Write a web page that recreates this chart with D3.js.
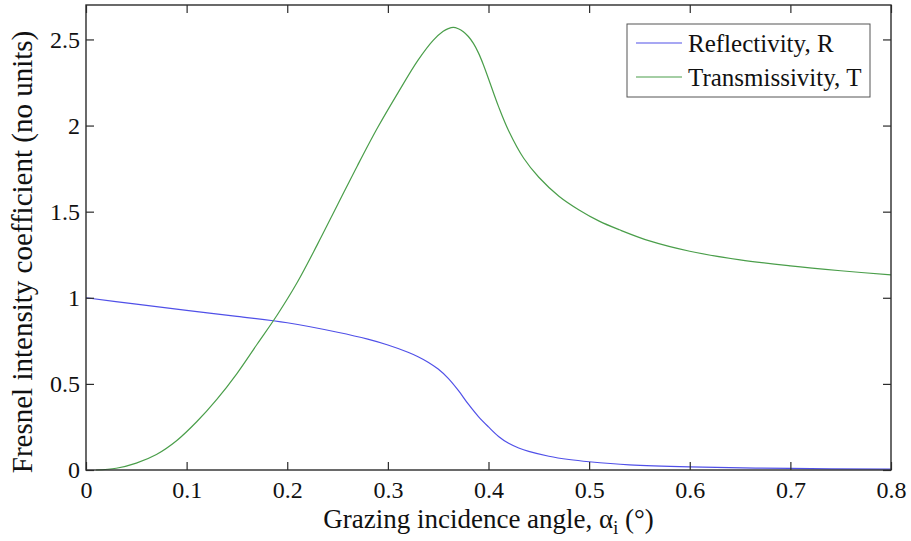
<!DOCTYPE html>
<html>
<head>
<meta charset="utf-8">
<script src="https://cdn.jsdelivr.net/npm/d3@7"></script>
<style>
  html, body { margin: 0; padding: 0; background: #fff; }
  svg { display: block; }
  text { font-family: "Liberation Serif", "Times New Roman", serif; fill: #111; }
</style>
</head>
<body>
<svg id="chart" width="911" height="541"></svg>
<script>
// ---- data ----
const reflAngle = [0, 0.05, 0.1, 0.15, 0.2, 0.25, 0.28, 0.30, 0.32, 0.33, 0.34, 0.35, 0.36, 0.37, 0.38, 0.39, 0.40, 0.41, 0.42, 0.43, 0.44, 0.46, 0.48, 0.50, 0.54, 0.60, 0.70, 0.80];
const reflValue = [1.0, 0.963, 0.927, 0.892, 0.855, 0.80, 0.76, 0.726, 0.684, 0.658, 0.626, 0.586, 0.532, 0.462, 0.382, 0.31, 0.25, 0.195, 0.155, 0.128, 0.108, 0.08, 0.061, 0.048, 0.03, 0.018, 0.009, 0.005];

const transAngle = [0.01, 0.03, 0.05, 0.07, 0.09, 0.11, 0.13, 0.15, 0.17, 0.19, 0.21, 0.23, 0.25, 0.27, 0.29, 0.31, 0.33, 0.345, 0.355, 0.36, 0.365, 0.37, 0.375, 0.38, 0.385, 0.39, 0.395, 0.40, 0.41, 0.42, 0.435, 0.45, 0.47, 0.49, 0.51, 0.53, 0.56, 0.60, 0.65, 0.70, 0.75, 0.80];
const transValue = [0.0, 0.01, 0.04, 0.09, 0.17, 0.28, 0.41, 0.56, 0.73, 0.90, 1.09, 1.31, 1.54, 1.77, 1.99, 2.19, 2.38, 2.495, 2.548, 2.563, 2.57, 2.562, 2.545, 2.517, 2.477, 2.422, 2.352, 2.272, 2.11, 1.97, 1.81, 1.70, 1.59, 1.51, 1.445, 1.395, 1.33, 1.27, 1.22, 1.185, 1.157, 1.133];

const xTicks = [0, 0.1, 0.2, 0.3, 0.4, 0.5, 0.6, 0.7, 0.8];
const yTicks = [0, 0.5, 1, 1.5, 2, 2.5];
const seriesNames = ["Reflectivity, R", "Transmissivity, T"];
const seriesColors = ["#5050e8", "#4a9e4a"];

// ---- layout ----
const svg = d3.select("#chart");
const m = { left: 86, top: 5, right: 891, bottom: 470 };
const x = d3.scaleLinear().domain([0, 0.8]).range([m.left, m.right]);
const y = d3.scaleLinear().domain([0, 2.7]).range([m.bottom, m.top]);

const series = [
  { name: seriesNames[0], color: seriesColors[0], pts: reflAngle.map((a, i) => [a, reflValue[i]]) },
  { name: seriesNames[1], color: seriesColors[1], pts: transAngle.map((a, i) => [a, transValue[i]]) }
];

const line = d3.line().x(d => x(d[0])).y(d => y(d[1])).curve(d3.curveCatmullRom.alpha(0.5));

const fmt = d => (d === 0 ? "0" : String(d));

// curves
svg.append("g").selectAll("path").data(series).join("path")
  .attr("d", d => line(d.pts))
  .attr("fill", "none")
  .attr("stroke", d => d.color)
  .attr("stroke-width", 1.2);

// axes (inward ticks, mirrored on top/right)
const axisColor = "#2b2b2b";
const tickLen = 8;
const styleAxis = g => {
  g.select(".domain").remove();
  g.selectAll(".tick line").attr("stroke", axisColor).attr("stroke-width", 1.2);
  g.selectAll(".tick text").attr("font-size", 24).attr("fill", "#111")
    .style("font-family", "'Liberation Serif', serif");
};

svg.append("g").attr("transform", `translate(0,${m.bottom})`)
  .call(d3.axisBottom(x).tickValues(xTicks).tickFormat(fmt).tickSizeInner(-tickLen).tickSizeOuter(0).tickPadding(11))
  .call(styleAxis);
svg.append("g").attr("transform", `translate(0,${m.top})`)
  .call(d3.axisTop(x).tickValues(xTicks).tickFormat("").tickSizeInner(-tickLen).tickSizeOuter(0))
  .call(styleAxis);
svg.append("g").attr("transform", `translate(${m.left},0)`)
  .call(d3.axisLeft(y).tickValues(yTicks).tickFormat(fmt).tickSizeInner(-tickLen).tickSizeOuter(0).tickPadding(6))
  .call(styleAxis);
svg.append("g").attr("transform", `translate(${m.right},0)`)
  .call(d3.axisRight(y).tickValues(yTicks).tickFormat("").tickSizeInner(-tickLen).tickSizeOuter(0))
  .call(styleAxis);

// frame
svg.append("rect")
  .attr("x", m.left).attr("y", m.top)
  .attr("width", m.right - m.left).attr("height", m.bottom - m.top)
  .attr("fill", "none").attr("stroke", axisColor).attr("stroke-width", 1.4);

// x label
const xl = svg.append("text")
  .attr("x", (m.left + m.right) / 2).attr("y", 528)
  .attr("text-anchor", "middle").attr("font-size", 27);
xl.append("tspan").text("Grazing incidence angle, α");
xl.append("tspan").attr("font-size", 18).attr("dy", 6).text("i");
xl.append("tspan").attr("dy", -6).text(" (°)");

// y label
svg.append("text")
  .attr("transform", `translate(32,252) rotate(-90)`)
  .attr("text-anchor", "middle").attr("font-size", 29)
  .text("Fresnel intensity coefficient (no units)");

// legend
const lg = svg.append("g");
lg.append("rect").attr("x", 627).attr("y", 24).attr("width", 243).attr("height", 73)
  .attr("fill", "#fff").attr("stroke", "#555").attr("stroke-width", 1);
const rows = lg.selectAll("g.row").data(series).join("g").attr("class", "row")
  .attr("transform", (d, i) => `translate(0,${43 + i * 34})`);
rows.append("line").attr("x1", 636).attr("x2", 682).attr("y1", 0).attr("y2", 0)
  .attr("stroke", d => d.color).attr("stroke-width", 1.2);
rows.append("text").attr("x", 688).attr("y", 9).attr("font-size", 25).text(d => d.name);
</script>
</body>
</html>
